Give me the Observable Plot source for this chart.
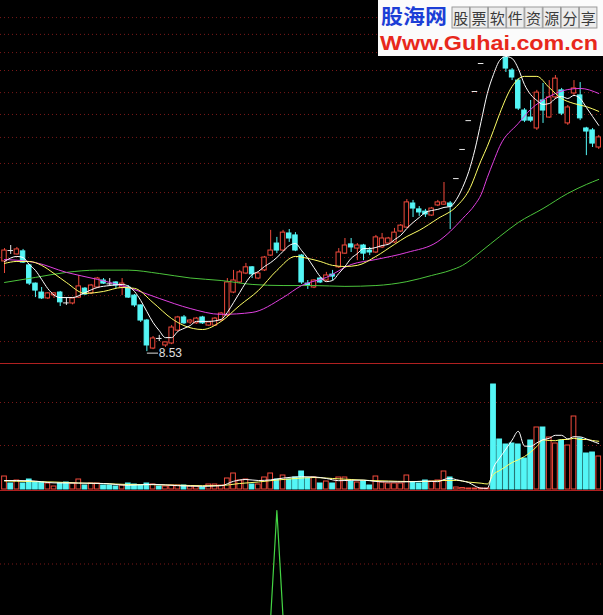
<!DOCTYPE html>
<html><head><meta charset="utf-8">
<script src="https://cdn.jsdelivr.net/npm/d3@7"></script>
<script src="https://cdn.jsdelivr.net/npm/@observablehq/plot@0.6"></script>
<style>
html,body{margin:0;padding:0;background:#000;}
#wrap{position:relative;width:603px;height:615px;background:#000;overflow:hidden;}
#wrap svg{display:block;}
.sep{border-bottom:1px solid #b02020;}
#wm{position:absolute;left:378px;top:0;}
</style></head><body>
<div id="wrap"><div id="main" class="sep"></div><div id="vol" class="sep"></div><div id="ind"></div></div>
<script>
// ---- daily candles (price, yuan) ----
const opens = [11.75,12.14,12.00,12.11,11.61,10.96,10.64,10.43,10.54,10.64,
 10.27,10.25,10.46,10.78,10.61,10.82,11.07,10.95,11.00,10.82,
 10.82,10.53,10.18,9.64,8.64,9.00,8.75,8.82,9.28,9.75,
 9.57,9.54,9.75,9.46,9.46,9.64,9.82,10.64,11.00,11.32,
 11.54,11.14,11.43,11.96,12.39,12.14,12.75,12.68,11.96,10.96,
 10.82,11.14,11.07,11.28,11.54,12.03,12.36,12.21,12.32,12.14,
 12.07,12.25,12.39,12.43,12.82,12.96,13.82,13.61,13.53,13.39,
 13.75,13.78,13.82,14.71,15.75,16.78,17.82,18.82,19.60,20.40,
 19.60,19.03,18.57,18.21,17.14,16.89,16.50,17.50,16.89,17.61,
 17.86,16.68,17.75,17.68,16.50,16.43,15.82];
const closes = [12.14,12.14,12.18,11.71,10.96,10.71,10.43,10.61,10.61,10.29,
 10.27,10.43,10.86,10.57,10.89,11.14,10.96,10.95,10.89,10.96,
 10.46,10.18,9.64,8.75,9.00,9.00,8.86,9.39,9.75,9.54,
 9.64,9.71,9.54,9.57,9.71,9.89,11.00,11.07,11.36,11.54,
 11.29,11.32,11.89,12.14,12.14,12.78,12.57,12.14,11.00,10.89,
 11.07,11.00,11.25,11.21,12.07,12.32,12.25,12.32,12.03,12.07,
 12.61,12.57,12.57,12.78,13.03,13.86,13.64,13.50,13.43,13.64,
 13.86,13.86,13.71,14.71,15.75,16.78,17.82,18.82,19.60,19.50,
 19.15,18.64,18.32,17.21,16.78,16.78,17.78,17.14,17.61,18.28,
 17.03,17.25,17.93,16.86,16.39,15.96,16.18];
const highs = [12.21,12.32,12.25,12.18,11.64,10.98,10.82,10.64,10.63,10.68,
 10.43,10.46,11.25,10.82,10.93,11.18,11.14,11.14,11.03,11.14,
 10.89,10.57,10.20,9.68,9.07,9.11,8.86,9.46,9.79,9.82,
 9.68,9.75,9.79,9.61,9.75,9.93,11.14,11.43,11.43,11.68,
 11.57,11.36,11.93,12.86,12.61,12.86,12.89,12.78,12.00,11.07,
 11.10,11.18,11.36,11.43,12.21,12.57,12.57,12.39,12.36,12.25,
 12.68,12.75,12.61,12.93,13.07,13.96,13.93,13.71,13.61,13.68,
 13.93,14.57,13.89,14.71,15.75,16.78,17.82,18.82,19.60,20.50,
 19.80,19.46,18.64,18.28,17.21,17.50,17.86,18.11,18.21,18.39,
 17.93,17.32,18.21,18.14,16.54,16.50,16.25];
const lows = [11.32,12.00,11.98,11.68,10.89,10.46,10.39,10.39,10.43,10.14,
 10.18,10.20,10.43,10.54,10.57,10.78,10.93,10.86,10.78,10.53,
 10.43,10.11,9.57,8.53,8.60,8.89,8.68,8.78,9.25,9.50,
 9.50,9.50,9.50,9.43,9.43,9.60,9.78,10.60,10.96,11.28,
 11.14,11.10,11.39,11.93,12.03,12.10,12.43,12.10,10.93,10.75,
 10.78,10.96,11.03,11.07,11.50,12.00,12.07,11.78,11.78,11.96,
 12.03,12.21,12.36,12.39,12.78,12.93,13.32,13.36,13.32,13.36,
 13.71,13.75,12.89,14.71,15.75,16.78,17.82,18.82,19.60,19.30,
 19.10,18.50,18.21,17.14,16.71,16.71,16.43,16.68,16.86,17.54,
 16.96,16.61,17.68,16.78,15.53,15.82,15.75];
// ---- volume (thousand lots) ----
const volumes = [13,6,9,6,10,7,7,6,3,6, 7,6,10,4,6,6,4,4,3,4, 6,5,4,6,5,3,3,4,4,4,
 3,3,2,5,5,4,11,16,9,10, 5,5,12,16,10,14,10,12,18,11, 12,6,8,6,12,12,8,7,8,4,
 13,7,6,6,6,14,7,6,9,8, 9,18,12,2,1.5,1,1,1,1,105, 50,45,46,45,31,49,62,62,52,46,
 49,44,73,51,36,37,33];
// ---- moving averages (day index, value) ----
const ma5Day = [0,2,3,4,5,6,7,9,11,13,15,17,19,21,22,23,24,25,26,27,28,29,30,31,33,35,36,37,38,39,40,41,42,43,44,45,46,47,48,49,50,51,52,53,54,55,56,57,58,59,60,61,62,63,64,65,66,67,68,69,70,71,72,73,74,75,76,77,78,79,80,81,82,83,84,85,86,87,88,89,90,91,92,93,94,95,96];
const ma5 = [11.75,11.93,11.89,11.64,11.43,11.11,10.78,10.46,10.46,10.64,10.82,10.89,10.93,10.68,10.36,9.96,9.57,9.28,9.03,9.03,9.25,9.36,9.46,9.61,9.61,9.68,9.93,10.28,10.64,11.00,11.28,11.39,11.57,11.71,11.89,12.11,12.32,12.39,12.14,11.86,11.53,11.21,11.03,11.07,11.32,11.57,11.86,12.03,12.21,12.21,12.25,12.32,12.36,12.53,12.68,12.93,13.14,13.32,13.50,13.57,13.61,13.68,13.71,13.96,14.39,14.96,15.75,16.75,17.75,18.43,18.93,19.07,19.00,18.64,18.07,17.71,17.50,17.36,17.39,17.57,17.64,17.57,17.68,17.57,17.25,16.93,16.61];
const ma10Day = [0,2,4,6,8,10,13,16,19,21,24,27,29,32,35,38,41,44,47,49,51,53,55,57,60,63,65,67,70,73,75,77,78,79,80,82,84,86,88,90,92,94,96];
const ma10 = [11.68,11.75,11.75,11.61,11.32,11.00,10.61,10.68,10.82,10.79,10.28,9.71,9.46,9.32,9.61,10.18,10.71,11.43,11.93,11.86,11.75,11.61,11.57,11.61,11.93,12.36,12.64,12.86,13.28,13.71,14.28,15.36,15.86,16.43,17.03,18.00,18.36,18.36,17.96,17.57,17.39,17.28,17.11];
const ma20Day = [0,5,10,15,20,25,30,35,40,45,48,52,56,60,65,70,72,74,76,77,78,79,80,83,85,88,91,93,96];
const ma20 = [11.82,11.71,11.36,11.11,10.82,10.43,10.07,9.86,9.93,10.46,10.89,11.18,11.64,11.82,12.07,12.46,12.82,13.28,13.78,14.14,14.75,15.32,15.86,16.68,17.18,17.64,17.89,17.93,17.75];
const ma60Day = [0,5,10,15,20,25,30,35,40,45,50,55,60,65,69,72,74,77,80,83,87,91,94,96];
const ma60 = [11.00,11.18,11.36,11.44,11.44,11.32,11.16,11.07,10.93,10.89,10.89,10.86,10.89,11.03,11.25,11.43,11.61,12.11,12.64,13.14,13.64,14.18,14.50,14.68];
const vma5Day = [0,4,8,12,16,20,24,28,32,35,37,39,41,43,45,48,50,52,54,56,58,60,62,64,66,68,70,71,72,73,74,75,76,77,78,79,80,81,82,83,84,85,86,87,88,89,90,91,92,93,94,95,96];
const vma5 = [9,8.8,6.6,6.4,6,4.2,5.2,3.8,3.2,3.8,8.2,10,9,9.6,11.4,12.8,12.6,11,8.8,9.2,9.4,8,7.6,7.6,7.8,8.4,7.8,10,11.2,9.8,8.5,6.9,3.5,1.3,1.1,21.8,31.6,40.4,49.4,58.2,43.4,43.2,46.6,49.8,51.2,54.2,54.2,50.6,52.8,52.6,50.6,48.2,46];
const vma10Day = [0,4,8,12,16,20,24,28,32,35,38,41,44,47,50,53,56,59,62,65,68,71,73,75,77,78,79,80,81,82,83,84,85,86,87,88,89,90,91,92,93,94,95,96];
const vma10 = [8.5,8,7.5,6.5,6,5,4.8,4.3,3.8,4,6,7.5,9.5,11,12,11,10,9,8.5,8,8,9,9.1,7.4,6.3,5.5,15.2,19,23,27,29.7,33,37.4,43,49.6,49,48.8,50,50,51.3,50,50,49,48.2];
// ---- bottom indicator (signal) ----
const signal = [0,0,0,0,0,0,0,0,0,0, 0,0,0,0,0,0,0,0,0,0, 0,0,0,0,0,0,0,0,0,0,
 0,0,0,0,0,0,0,0,0,0, 0,0,0,0,1,0,0,0,0,0, 0,0,0,0,0,0,0,0,0,0,
 0,0,0,0,0,0,0,0,0,0, 0,0,0,0,0,0,0,0,0,0, 0,0,0,0,0,0,0,0,0,0, 0,0,0,0,0,0,0];
// ---- gridlines ----
const priceGrid = [20.46,19.86,19.21,18.57,17.78,17.00,16.18,15.25,14.21,13.14,11.89,10.53,8.89];
const volGrid = [44, 87];
const sigGrid = [0.5];
const wmTitle = "股海网", wmSlogan = "股票软件资源分享", wmUrl = "Www.Guhai.com.cn";

const RED = "#f04a3c", CYAN = "#54f6f6", DOJI = "#e8e8e8";
const candles = opens.map((o, i) => ({i, open: o, close: closes[i], high: highs[i], low: lows[i], vol: volumes[i]}));
const col = d => d.close > d.open ? RED : d.close < d.open ? CYAN : DOJI;
const volUp = d => d.close > d.open || (d.close === d.open && d.i > 0 && d.close > closes[d.i - 1]);
const xs = {type: "linear", domain: [-4 / 6.19, 599 / 6.19], range: [0, 603], axis: null};
const pairs = (days, vals) => days.map((d, k) => ({i: d, v: vals[k]}));
const grid = {stroke: "#7a1818", strokeDasharray: "1,3", strokeWidth: 1};
const base = {width: 603, margin: 0, style: {background: "#000", display: "block"}};

const minIdx = d3.minIndex(lows);
const bodies = candles.filter(d => d.open !== d.close);
const dojis = candles.filter(d => d.open === d.close);

const main = Plot.plot({...base, height: 363, x: xs,
  y: {domain: [8.106, 21.07], range: [363, 0], axis: null},
  marks: [
    Plot.ruleY(priceGrid, grid),
    Plot.ruleX(candles, {x: "i", y1: "low", y2: "high", stroke: col, strokeWidth: 1}),
    Plot.rect(bodies, {x1: d => d.i - 0.36, x2: d => d.i + 0.36, y1: "open", y2: "close",
      fill: d => d.close > d.open ? "#000" : CYAN, stroke: col, strokeWidth: 1}),
    Plot.ruleY(dojis, {x1: d => d.i - 0.45, x2: d => d.i + 0.45, y: "close", stroke: DOJI, strokeWidth: 1}),
    Plot.line(pairs(ma60Day, ma60), {x: "i", y: "v", stroke: "#4cc43c", strokeWidth: 1, curve: "monotone-x"}),
    Plot.line(pairs(ma20Day, ma20), {x: "i", y: "v", stroke: "#e040e0", strokeWidth: 1, curve: "monotone-x"}),
    Plot.line(pairs(ma10Day, ma10), {x: "i", y: "v", stroke: "#ffff66", strokeWidth: 1, curve: "monotone-x"}),
    Plot.line(pairs(ma5Day, ma5), {x: "i", y: "v", stroke: "#ffffff", strokeWidth: 1, curve: "monotone-x"}),
    Plot.link([candles[minIdx]], {x1: "i", x2: d => d.i + 1.8, y1: "low", y2: "low", stroke: "#ddd", strokeWidth: 1, dy: 1.5}),
    Plot.text([candles[minIdx]], {x: d => d.i + 1.9, y: "low", text: d => d3.format(".2f")(d.low), textAnchor: "start",
      fill: "#e0e0e0", fontSize: 12, fontFamily: "Liberation Sans, Arial, sans-serif", dy: 2})
  ]});
document.getElementById("main").appendChild(main);

const vol = Plot.plot({...base, height: 126, x: xs,
  y: {domain: [0, 125], range: [125, 0], axis: null},
  marks: [
    Plot.ruleY(volGrid, grid),
    Plot.rect(candles, {x1: d => d.i - 0.38, x2: d => d.i + 0.38, y1: 0, y2: "vol",
      fill: d => volUp(d) ? "#000" : CYAN, stroke: d => volUp(d) ? RED : CYAN, strokeWidth: 1}),
    Plot.line(pairs(vma10Day, vma10), {x: "i", y: "v", stroke: "#ffff66", strokeWidth: 1, curve: "monotone-x"}),
    Plot.line(pairs(vma5Day, vma5), {x: "i", y: "v", stroke: "#ffffff", strokeWidth: 1, curve: "monotone-x"})
  ]});
document.getElementById("vol").appendChild(vol);

const ind = Plot.plot({...base, height: 124, x: xs,
  y: {domain: [0, 1], range: [126, 19], axis: null},
  marks: [
    Plot.ruleY(sigGrid, grid),
    Plot.line(signal.map((v, i) => ({i, v})), {x: "i", y: "v", stroke: "#44d444", strokeWidth: 1.2, clip: true})
  ]});
document.getElementById("ind").appendChild(ind);

// watermark
const wm = d3.create("svg").attr("id", "wm").attr("width", 225).attr("height", 56);
wm.append("rect").attr("width", 225).attr("height", 56).attr("fill", "#fbfbfb");
wm.append("text").attr("x", 3).attr("y", 24).attr("font-size", 20).attr("font-weight", "bold")
  .attr("font-family", "Noto Sans CJK SC").attr("fill", "#1c3ed6").attr("textLength", 66)
  .attr("lengthAdjust", "spacingAndGlyphs").text(wmTitle);
Array.from(wmSlogan).forEach((ch, k) => {
  const x0 = 74 + k * 18.2;
  wm.append("rect").attr("x", x0).attr("y", 7).attr("width", 17.5).attr("height", 21).attr("fill", "#ececec").attr("stroke", "#9a9a9a");
  wm.append("text").attr("x", x0 + 8.75).attr("y", 23.5).attr("text-anchor", "middle").attr("font-size", 15)
    .attr("font-family", "Noto Sans CJK SC").attr("fill", "#3a3a3a").text(ch);
});
wm.append("text").attr("x", 2).attr("y", 50).attr("font-size", 20).attr("font-weight", "bold")
  .attr("font-family", "Liberation Sans, Arial, sans-serif").attr("fill", "#e8281c").attr("textLength", 218)
  .attr("lengthAdjust", "spacingAndGlyphs").text(wmUrl);
document.getElementById("wrap").appendChild(wm.node());
</script>
</body></html>
